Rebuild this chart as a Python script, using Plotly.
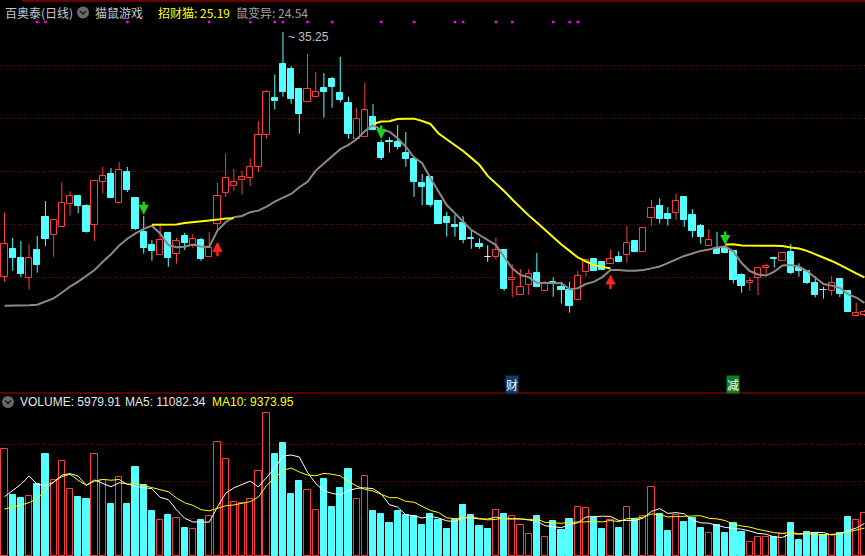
import plotly.graph_objects as go
import pandas as pd

W, H = 865, 556
SPLIT_PX = 393          # separator between price and volume panels (px from top)

# ---------------- data ----------------
open_p = [26.02, 27.06, 26.71, 25.98, 27.02, 28.26, 27.58, 27.88, 28.75, 29.05,
          28.68, 27.96, 29.60, 29.89, 28.79, 29.97, 28.99, 27.70, 27.21, 26.85,
          27.67, 26.88, 27.55, 27.17, 27.40, 26.75, 28.00, 29.19, 29.42, 29.65,
          29.75, 30.17, 31.35, 32.76, 34.04, 33.85, 33.10, 32.62, 32.81, 33.15,
          33.49, 32.95, 32.57, 31.21, 31.28, 32.04, 31.06, 31.13, 31.10, 30.68,
          30.45, 29.54, 29.77, 28.87, 28.27, 27.95, 28.03, 27.46, 27.25, 26.76,
          26.77, 27.02, 25.88, 25.34, 25.69, 26.14, 25.49, 25.82, 25.63, 25.51,
          25.14, 26.18, 26.68, 26.56, 26.48, 26.76, 26.85, 27.36, 26.96, 28.24,
          28.67, 28.38, 28.43, 29.02, 28.34, 27.93, 27.19, 27.09, 27.09, 26.99,
          26.07, 25.77, 25.98, 26.36, 26.73, 26.62, 26.95, 26.36, 26.23, 25.78,
          25.53, 25.49, 25.94, 25.48, 24.53, 24.57]
high_p = [28.43, 27.48, 27.36, 27.24, 27.55, 28.87, 28.14, 29.58, 29.24, 29.06,
          28.75, 29.65, 30.16, 30.12, 30.34, 30.16, 28.99, 28.31, 27.40, 28.04,
          27.67, 27.48, 27.67, 27.63, 27.48, 27.70, 29.55, 30.67, 30.08, 30.00,
          30.48, 31.88, 33.06, 33.65, 35.25, 33.96, 33.10, 34.42, 33.74, 33.70,
          33.56, 34.31, 32.81, 32.39, 33.33, 32.53, 31.17, 31.28, 31.74, 31.48,
          30.45, 29.89, 29.82, 28.87, 28.47, 28.36, 28.30, 27.78, 27.46, 27.20,
          27.50, 27.02, 26.48, 26.30, 26.30, 26.91, 25.86, 25.99, 25.83, 25.83,
          26.23, 26.64, 26.68, 26.56, 27.02, 26.97, 27.93, 27.36, 27.84, 28.91,
          28.97, 28.64, 29.14, 29.02, 28.56, 28.01, 27.80, 27.71, 27.17, 26.99,
          26.14, 25.99, 26.33, 26.52, 26.77, 26.95, 27.25, 26.52, 26.23, 26.02,
          25.64, 26.04, 25.94, 25.48, 25.04, 24.76]
low_p = [25.83, 26.24, 26.00, 25.53, 26.17, 27.17, 26.77, 27.88, 28.32, 28.41,
         27.68, 27.37, 29.15, 29.00, 28.79, 29.21, 27.78, 26.88, 26.62, 26.85,
         26.39, 26.51, 27.02, 27.09, 26.61, 26.75, 27.71, 29.03, 29.25, 29.12,
         29.44, 29.96, 31.22, 32.32, 32.81, 32.54, 31.41, 32.62, 32.81, 32.02,
         32.39, 32.60, 31.22, 31.17, 31.28, 31.54, 30.42, 30.70, 30.82, 30.17,
         29.03, 28.71, 28.65, 28.02, 27.53, 27.53, 27.28, 27.07, 27.07, 26.58,
         26.67, 25.48, 25.24, 25.34, 25.33, 25.62, 25.49, 25.26, 25.01, 24.66,
         25.14, 26.02, 26.24, 26.27, 26.48, 26.56, 26.54, 26.96, 26.96, 27.94,
         28.02, 27.94, 28.16, 27.90, 27.50, 27.26, 27.19, 26.87, 26.92, 25.77,
         25.41, 25.48, 25.33, 26.11, 26.36, 26.62, 26.11, 26.02, 25.74, 25.24,
         25.19, 25.30, 25.25, 24.68, 24.51, 24.53]
close_p = [27.24, 26.73, 26.13, 26.71, 26.47, 27.45, 28.14, 28.79, 29.05, 28.70,
           27.71, 29.62, 29.80, 29.00, 30.03, 29.30, 27.82, 27.11, 27.00, 27.39,
           26.73, 27.35, 27.29, 27.43, 26.68, 27.10, 29.05, 29.73, 29.58, 29.77,
           30.14, 31.35, 32.97, 32.65, 33.00, 32.73, 32.17, 33.09, 32.99, 32.99,
           33.19, 32.70, 31.39, 31.97, 32.31, 31.54, 30.51, 31.10, 30.92, 30.47,
           29.60, 29.41, 28.72, 28.02, 28.05, 27.91, 27.41, 27.42, 27.14, 26.76,
           27.01, 25.55, 25.96, 25.62, 26.11, 25.62, 25.74, 25.78, 25.51, 24.92,
           26.03, 26.64, 26.24, 26.27, 26.67, 26.56, 27.28, 26.96, 27.84, 28.60,
           28.20, 28.20, 28.86, 28.17, 27.75, 27.53, 27.39, 26.87, 26.92, 25.89,
           25.67, 25.85, 26.33, 26.43, 26.69, 26.91, 26.17, 26.24, 25.78, 25.33,
           25.50, 25.77, 25.37, 24.68, 24.65, 24.68]
volume = [14830, 8479, 8104, 8298, 10008, 14178, 10564, 13205, 9313, 8201,
          7965, 14136, 10564, 7228, 11023, 7228, 12371, 9869, 6255, 5004,
          5699, 5324, 3934, 3711, 5004, 5560, 15846, 13441, 7464, 7367,
          7923, 11815, 19835, 14178, 15749, 8618, 10425, 9174, 6394, 10703,
          6811, 9452, 12093, 7923, 11078, 6255, 5838, 4587, 6255, 5699,
          5560, 4309, 5838, 5004, 3753, 5004, 7089, 5699, 4170, 3753,
          6352, 5838, 5560, 4267, 3016, 5560, 2641, 4865, 3614, 5143,
          6811, 6672, 5282, 3753, 5004, 3892, 6811, 5143, 5560, 9591,
          5838, 3475, 5699, 4726, 5282, 3892, 3197, 4309, 3197, 4587,
          3336, 1946, 2641, 2641, 2641, 3058, 4587, 2224, 3336, 3197,
          2919, 2919, 3197, 5421, 5004, 5980]
# 鼠变异 (grey line)
rat_line = [24.92, 24.92, 24.92, 24.94, 24.96, 25.07, 25.20, 25.41, 25.64, 25.83,
            26.04, 26.27, 26.58, 26.86, 27.19, 27.45, 27.65, 27.82, 27.94, 27.65,
            27.21, 27.13, 27.15, 27.23, 27.15, 27.15, 27.76, 28.07, 28.26, 28.31,
            28.45, 28.51, 28.66, 28.85, 29.00, 29.14, 29.39, 29.60, 30.02, 30.30,
            30.58, 30.83, 30.99, 31.20, 31.51, 31.74, 31.56, 31.49, 31.24, 30.92,
            30.52, 30.30, 29.74, 29.22, 28.72, 28.41, 28.09, 27.78, 27.59, 27.40,
            27.21, 26.77, 26.33, 26.08, 26.00, 25.79, 25.79, 25.79, 25.77, 25.54,
            25.58, 25.74, 25.83, 26.00, 26.27, 26.27, 26.24, 26.24, 26.27, 26.33,
            26.40, 26.53, 26.68, 26.80, 26.89, 26.99, 27.04, 27.12, 27.16, 26.97,
            26.53, 26.23, 26.10, 26.06, 26.21, 26.44, 26.46, 26.40, 26.23, 25.97,
            25.74, 25.68, 25.59, 25.36, 25.23, 25.03]
# 招财猫 (yellow line, only shown in sell phases)
N_ = None
cat_line = [N_] * 18 + [27.98, 27.98, 27.98, 27.99, 28.04, 28.08, 28.12, 28.14, 28.17, 28.21, 28.22] + \
           [N_] * 16 + [31.78, 31.87, 31.88, 31.97, 31.98, 31.98, 31.89, 31.78, 31.42, 31.21,
                        31.00, 30.76, 30.50, 30.23, 29.82, 29.55, 29.25, 28.93, 28.61, 28.33,
                        28.06, 27.78, 27.49, 27.23, 26.99, 26.74, 26.59, 26.46, 26.38, 26.33] + \
           [N_] * 13 + [27.23, 27.24, 27.19, 27.18, 27.18, 27.18, 27.18, 27.17, 27.12, 27.08,
                        26.99, 26.87, 26.74, 26.61, 26.46, 26.29, 26.14, 25.99]
# volume MA values before a full window is available
vol_ma5_head = [8243, 9077, 9966, 11120]
vol_ma10_head = [6533, 6769, 7089, 7409, 7965, 9174, 10328, 11023, 11356]

sell_idx = [17, 46, 88]
buy_idx = [26, 74]
dot_idx = [4, 5, 15, 25, 30, 33, 34, 37, 40, 46, 50, 55, 56, 60, 62, 67, 69, 70]
tag_text = ["财", "减"]
tag_idx = [62, 89]
tag_bg = ["#143a6e", "#0f7a1e"]

title_vals = {"招财猫": "25.19", "鼠变异": "24.54"}
vol_title = {"VOLUME": "5979.91", "MA5": "11082.34", "MA10": "9373.95"}

# ---------------- scales ----------------
n = len(close_p)
x = list(range(n))
X_RANGE = [-0.55, 105.07]
P_TOP, P_BOT = 36.4575, 21.6273
V_TOP = 22657
split = (H - SPLIT_PX) / H

RED = "#ff3b3b"
CYAN = "#54ffff"
WHITE = "#e8e8e8"

def px(xp):
    return xp / W

def py(yp):
    return 1 - yp / H

# candle bodies
base, hgt, fill, edge, vfill, vedge = [], [], [], [], [], []
for o, c in zip(open_p, close_p):
    lo, hi = min(o, c), max(o, c)
    h = hi - lo
    if h < 0.03:
        mid = (lo + hi) / 2
        lo, h = mid - 0.015, 0.03
    base.append(lo)
    hgt.append(h)
    if c > o:
        fill.append("#000000"); edge.append(RED)
        vfill.append("#000000"); vedge.append(RED)
    elif c < o:
        fill.append(CYAN); edge.append(CYAN)
        vfill.append(CYAN); vedge.append(CYAN)
    else:
        fill.append(WHITE); edge.append(WHITE)
        vfill.append(CYAN); vedge.append(CYAN)

wick = {RED: ([], []), CYAN: ([], []), WHITE: ([], [])}
for i, (o, h, l, c) in enumerate(zip(open_p, high_p, low_p, close_p)):
    if c > o:
        xs, ys = wick[RED]
        xs += [i, i, None, i, i, None]
        ys += [h, c, None, o, l, None]
    else:
        col = CYAN if c < o else WHITE
        xs, ys = wick[col]
        xs += [i, i, None]
        ys += [h, l, None]

vs = pd.Series(volume, dtype=float)
ma5 = vs.rolling(5).mean().tolist()
ma10 = vs.rolling(10).mean().tolist()
ma5[:len(vol_ma5_head)] = vol_ma5_head
ma10[:len(vol_ma10_head)] = vol_ma10_head

fig = go.Figure()
BW = 0.76
fig.add_trace(go.Bar(x=x, y=hgt, base=base, width=BW,
                     marker=dict(color=fill, line=dict(color=edge, width=1)),
                     xaxis="x", yaxis="y", hoverinfo="skip"))
for col, (xs, ys) in wick.items():
    fig.add_trace(go.Scatter(x=xs, y=ys, mode="lines", line=dict(color=col, width=1),
                             xaxis="x", yaxis="y", hoverinfo="skip"))
fig.add_trace(go.Scatter(x=x, y=rat_line, mode="lines", line=dict(color="#8a8a8a", width=2),
                         xaxis="x", yaxis="y", hoverinfo="skip"))
fig.add_trace(go.Scatter(x=x, y=cat_line, mode="lines", line=dict(color="#ffff00", width=2),
                         connectgaps=False, xaxis="x", yaxis="y", hoverinfo="skip"))
dot_level = P_TOP - 22 * (P_TOP - P_BOT) / SPLIT_PX
fig.add_trace(go.Scatter(x=dot_idx, y=[dot_level] * len(dot_idx), mode="markers",
                         marker=dict(symbol="square", size=2.5, color="#ff00ff"),
                         xaxis="x", yaxis="y", hoverinfo="skip"))

# volume
fig.add_trace(go.Bar(x=x, y=volume, width=BW,
                     marker=dict(color=vfill, line=dict(color=vedge, width=1)),
                     xaxis="x", yaxis="y2", hoverinfo="skip"))
fig.add_trace(go.Scatter(x=x, y=ma5, mode="lines", line=dict(color="#ffffff", width=1),
                         xaxis="x", yaxis="y2", hoverinfo="skip"))
fig.add_trace(go.Scatter(x=x, y=ma10, mode="lines", line=dict(color="#ffff00", width=1),
                         xaxis="x", yaxis="y2", hoverinfo="skip"))

ann = []
# signal arrows
for i in sell_idx:
    ann.append(dict(x=i, y=high_p[i], xref="x", yref="y", text="", showarrow=True,
                    ax=0, ay=-16, arrowhead=2, arrowsize=0.85, arrowwidth=2.4,
                    arrowcolor="#1ed21e", standoff=1))
for i in buy_idx:
    ann.append(dict(x=i, y=low_p[i], xref="x", yref="y", text="", showarrow=True,
                    ax=0, ay=26, arrowhead=2, arrowsize=0.85, arrowwidth=2.4,
                    arrowcolor="#ff2020", standoff=10))
# highest price label
hi_i = max(range(n), key=lambda k: high_p[k])
ann.append(dict(x=hi_i, y=high_p[hi_i], xref="x", yref="y", text="~ %.2f" % high_p[hi_i],
                showarrow=False, xanchor="left", yanchor="middle", xshift=3, yshift=-5,
                font=dict(family="Liberation Sans, Arial", size=12, color="#c0c0c0")))
# tags
for t, i, bg in zip(tag_text, tag_idx, tag_bg):
    ann.append(dict(x=i, y=py(SPLIT_PX + 1), xref="x", yref="paper", text=t, showarrow=False,
                    xanchor="center", yanchor="bottom", bgcolor=bg, borderpad=0,
                    font=dict(family="Noto Sans CJK SC", size=12, color="#ffffff")))

CJK = "Noto Sans CJK SC"
def label(xp, yp, text, color, family=CJK):
    ann.append(dict(x=px(xp), y=py(yp), xref="paper", yref="paper", text=text,
                    showarrow=False, xanchor="left", yanchor="middle",
                    font=dict(family=family, size=12, color=color)))

label(3, 12.5, "百奥泰(日线)", "#c8c8c8")
label(93, 12.5, "猫鼠游戏", "#c8c8c8")
label(156, 12.5, "招财猫: " + title_vals["招财猫"], "#ffff00")
label(234, 12.5, "鼠变异: " + title_vals["鼠变异"], "#a0a0a0")
LAT = "Liberation Sans, Arial"
label(18, 402, "VOLUME: " + vol_title["VOLUME"], "#e6e6e6", LAT)
label(123, 402, "MA5: " + vol_title["MA5"], "#e6e6e6", LAT)
label(210, 402, "MA10: " + vol_title["MA10"], "#ffff00", LAT)

shapes = []
# frame lines
shapes.append(dict(type="line", xref="paper", yref="paper", x0=px(23), x1=1, y0=py(1), y1=py(1),
                   line=dict(color="#d00000", width=1)))
shapes.append(dict(type="line", xref="paper", yref="paper", x0=px(23), x1=px(23), y0=1, y1=py(1),
                   line=dict(color="#d00000", width=1)))
shapes.append(dict(type="line", xref="paper", yref="paper", x0=0, x1=1, y0=py(SPLIT_PX), y1=py(SPLIT_PX),
                   line=dict(color="#b00000", width=1)))
# collapse icons
for cx, cy in [(83, 12.5), (8, 402)]:
    shapes.append(dict(type="circle", xref="paper", yref="paper",
                       x0=px(cx - 6), x1=px(cx + 6), y0=py(cy + 6), y1=py(cy - 6),
                       fillcolor="#6a6a6a", line=dict(width=0)))
    shapes.append(dict(type="path", xref="paper", yref="paper",
                       path="M %f,%f L %f,%f L %f,%f" % (px(cx - 3), py(cy - 1.5), px(cx), py(cy + 1.5),
                                                          px(cx + 3), py(cy - 1.5)),
                       line=dict(color="#1a1a1a", width=1.5)))

fig.update_layout(
    width=W, height=H, margin=dict(l=0, r=0, t=0, b=0),
    paper_bgcolor="#000000", plot_bgcolor="#000000",
    showlegend=False, barmode="overlay", bargap=0,
    xaxis=dict(range=X_RANGE, domain=[0, 1], anchor="y", showgrid=False, zeroline=False,
               showticklabels=False, showline=False, ticks=""),
    yaxis=dict(range=[P_BOT, P_TOP], domain=[split, 1], showgrid=True,
               tickvals=[26, 28, 30, 32, 34], gridcolor="#7a0000", griddash="1px,2px",
               gridwidth=1, zeroline=False, showticklabels=False, showline=False, ticks=""),
    yaxis2=dict(range=[0, V_TOP], domain=[0, split], anchor="x", showgrid=True,
                tickvals=[5200, 10400, 15500], gridcolor="#7a0000", griddash="1px,2px",
                gridwidth=1, zeroline=False, showticklabels=False, showline=False, ticks=""),
    annotations=ann, shapes=shapes,
)

fig.write_html("out.html", config={"displayModeBar": False},
               post_script="document.body.style.margin='0px';document.body.style.overflow='hidden';")
